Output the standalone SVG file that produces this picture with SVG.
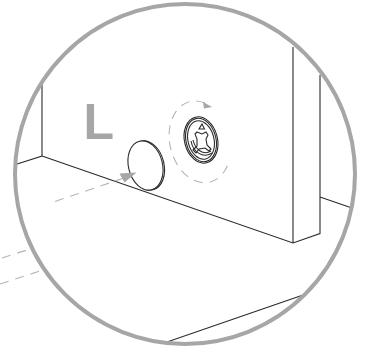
<svg xmlns="http://www.w3.org/2000/svg" width="370" height="354" viewBox="0 0 370 354">
<style>
.k{fill:none;stroke:#2b2b2b;stroke-width:1.100}
.w{fill:#fff;stroke:#2b2b2b;stroke-width:1.100}
.d{fill:none;stroke:#b4b4b4;stroke-width:1.100;stroke-dasharray:9 7}
.g{fill:#a6a6a4}
</style>
<rect width="370" height="354" fill="#fff"/>
<g id="furniture">
<path class="k" d="M42 81V156L14 165M42 156L293 243L320 233.500V75M293 243V47M320 197L352 208M167 342L306 294"/>
</g>
<g id="disc">
<ellipse class="w" cx="147" cy="165.500" rx="17" ry="25" transform="rotate(-14 147 165.500)"/>
<ellipse class="w" cx="145.500" cy="165.500" rx="17" ry="25" transform="rotate(-14 145.500 165.500)"/>
</g>
<g id="screw">
<ellipse class="k" cx="201" cy="140" rx="16.500" ry="23.500" transform="rotate(-14 201 140)"/>
<ellipse class="k" cx="201" cy="140" rx="15" ry="22" transform="rotate(-14 201 140)"/>
<ellipse class="k" cx="201" cy="140" rx="13" ry="19.500" transform="rotate(-14 201 140)"/>
<path class="k" d="M191 141C193 152 203 159 212 153M193 140C195 149 203 156 211 151"/>
<path class="k" d="M197 132L202 134L206 132L208 135L206 139L207 145L211 149L209 151L205 148L199 149L196 153L193 150L197 146L197 139L195 134Z"/>
<path class="k" d="M202 124L204.500 129H199Z"/>
</g>
<g id="connectors">
<path class="d" d="M55 201.500L124 178"/>
<path class="d" d="M2 258L27 250"/>
<path class="d" d="M0 284L40 271"/>
<path class="d" d="M205 103A30 41.500 -14 1 0 229 161"/>
<path class="g" d="M119.500 173.500L136.500 172.500L124.500 182.500Z"/>
<path class="g" d="M203 102L212 107L204 108.500Z"/>
</g>
<g id="label">
<text x="83.500" y="139" font-family="Liberation Sans, Arial, sans-serif" font-weight="700" font-size="50" fill="#a6a6a4">L</text>
</g>
<circle id="lens" cx="185" cy="174" r="170" fill="none" stroke="#a6a6a4" stroke-width="4"/>
</svg>
